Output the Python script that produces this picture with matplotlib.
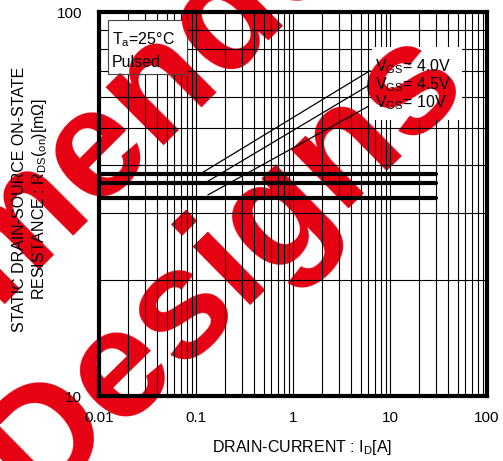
import numpy as np
import matplotlib
matplotlib.use('Agg')
import matplotlib.pyplot as plt
from matplotlib.patches import Rectangle
from matplotlib.ticker import NullFormatter

plt.rcParams['font.family'] = ['Liberation Sans', 'DejaVu Sans']
plt.rcParams['mathtext.fontset'] = 'custom'
plt.rcParams['mathtext.rm'] = 'Liberation Sans'
plt.rcParams['mathtext.it'] = 'Liberation Sans:italic'

#%% data
vgs_labels = ['V$_{\\mathrm{GS}}$= 4.0V', 'V$_{\\mathrm{GS}}$= 4.5V', 'V$_{\\mathrm{GS}}$= 10V']
flat_id    = [0.01, 30.0]          # thick flat part [A]
flat_r     = [37.9, 35.8, 32.8]    # R_DS(on) [mOhm]
diag_id    = [[0.115, 6.2], [0.129, 5.9], [0.133, 5.9]]
diag_r     = [[38.1, 70.3], [36.1, 64.2], [33.4, 56.7]]
xticks     = [0.01, 0.1, 1, 10, 100]
xticklbl   = ['0.01', '0.1', '1', '10', '100']
yticks     = [10, 100]
yticklbl   = ['10', '100']

W, H = 503, 461
wm_color = '#e60012'

def px(x, y):
    return x / W, 1 - y / H

#%% figure
fig = plt.figure(figsize=(W/100, H/100), dpi=100)
ax = fig.add_axes([99/W, 1-396/H, (487-99)/W, (396-12)/H])
ax.set_facecolor('none')
ax.set_xscale('log')
ax.set_yscale('log')
ax.set_xlim(0.01, 100)
ax.set_ylim(10, 100)
ax.set_axisbelow(True)

ax.grid(True, which='both', color='black', linewidth=0.8)
ax.set_xticks(xticks)
ax.set_xticklabels(xticklbl)
ax.set_yticks(yticks)
ax.set_yticklabels(yticklbl)
ax.xaxis.set_minor_formatter(NullFormatter())
ax.yaxis.set_minor_formatter(NullFormatter())
ax.tick_params(which='both', length=0, labelsize=11)
ax.tick_params(axis='x', pad=11)
ax.tick_params(axis='y', pad=12)
for s in ax.spines.values():
    s.set_linewidth(3)
    s.set_zorder(5)

# watermark, under everything
def watermark(**kw):
    t1 = ax.text(*px(420, -110), 'Not Recommended', transform=fig.transFigure, rotation=45,
                 rotation_mode='anchor', ha='right', va='baseline', fontsize=112,
                 fontweight='bold', color=wm_color, clip_on=False, **kw)
    t2 = ax.text(*px(471, 88), 'for New Designs', transform=fig.transFigure, rotation=44.5,
                 rotation_mode='anchor', ha='right', va='baseline', fontsize=112,
                 fontweight='bold', color=wm_color, clip_on=False, **kw)
    return t1, t2

watermark(zorder=0.1)

# data lines
for r in flat_r:
    ax.plot(flat_id, [r, r], color='black', linewidth=3, solid_capstyle='round', zorder=3)
for xs, ys in zip(diag_id, diag_r):
    ax.plot(xs, ys, color='black', linewidth=0.9, zorder=3)

# boxes (white, hide grid, watermark still shows on them)
box1 = Rectangle(px(108, 74), 79/W, 54/H, transform=fig.transFigure, facecolor='white',
                 edgecolor='#444444', linewidth=0.8, zorder=2.6, clip_on=False)
box2 = Rectangle(px(372, 120), 90/W, 73/H, transform=fig.transFigure, facecolor='white',
                 edgecolor='none', zorder=2.6, clip_on=False)
ax.add_patch(box1)
ax.add_patch(box2)
for b in (box1, box2):
    for t in watermark(zorder=2.7):
        t.set_clip_on(True)
        t.set_clip_path(b)

ax.text(*px(112, 40), 'T$_{\\mathrm{a}}$=25°C', transform=fig.transFigure, fontsize=11.5,
        va='center', ha='left', zorder=4)
ax.text(*px(112, 62), 'Pulsed', transform=fig.transFigure, fontsize=11.5,
        va='center', ha='left', zorder=4)
for lbl, yy in zip(vgs_labels, [67, 85, 103]):
    ax.text(*px(375, yy), lbl, transform=fig.transFigure, fontsize=11.5,
            va='center', ha='left', zorder=4)

# axis labels
fig.text(*px(302, 447), 'DRAIN-CURRENT : I$_{\\mathrm{D}}$[A]', fontsize=11.5,
         ha='center', va='center')
fig.text(*px(20, 199), 'STATIC DRAIN-SOURCE ON-STATE', fontsize=11.5, rotation=90,
         ha='center', va='center')
fig.text(*px(40, 199), 'RESISTANCE : R$_{\\mathrm{DS}}$($_{\\mathrm{on}}$)[m\u03a9]', fontsize=11.5,
         rotation=90, ha='center', va='center')

plt.savefig('out.png', dpi=100)
